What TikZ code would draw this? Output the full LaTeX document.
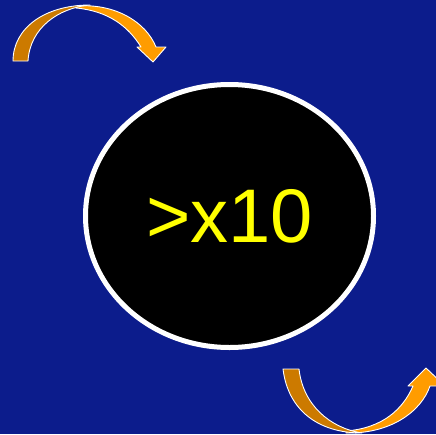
\documentclass[tikz,border=0pt]{standalone}
\usepackage{fontspec}
\setmainfont{Liberation Sans}
\usetikzlibrary{shapes.geometric}
\definecolor{bgblue}{HTML}{0C1C8C}
\definecolor{darkorange}{HTML}{CC7A00}
\definecolor{lightorange}{HTML}{FF9C00}
\definecolor{txtyellow}{HTML}{FFFF00}
\tikzset{
  band/.style={draw=white,line width=0.9pt,line join=round},
  bigcircle/.style={ellipse,draw=white,fill=black,line width=5pt,minimum width=288pt,minimum height=263pt,inner sep=0pt,text=txtyellow,font=\fontsize{76}{80}\selectfont}
}
\begin{document}
\begin{tikzpicture}[x=1pt,y=-1pt]
\fill[bgblue] (0,0) rectangle (436,434);
\useasboundingbox (0,0) rectangle (436,434);
\clip (0,0) rectangle (436,434);
% top arrow
\filldraw[band,fill=lightorange] (76,6) .. controls (115,3) and (146,22) .. (156,47) -- (166,47) -- (153,62) -- (137,47) -- (141,47) .. controls (128,26) and (108,11) .. (76,8) -- cycle;
\filldraw[band,fill=darkorange] (13,61) .. controls (13,28) and (45,5) .. (90,5) .. controls (58,8) and (30,28) .. (28,61) -- cycle;
% bottom arrow
\filldraw[band,fill=lightorange] (346,433) .. controls (390,434) and (421,412) .. (430,386) -- (445,386) -- (426,368) -- (408,386) -- (413,386) .. controls (403,409) and (383,428) .. (346,431) -- cycle;
\filldraw[band,fill=darkorange] (283,369) .. controls (288,410) and (318,433) .. (362,433) .. controls (330,428) and (303,405) .. (299,369) -- cycle;
% central node
\node[bigcircle] (c) at (229.5,216) {>x10};
\end{tikzpicture}
\end{document}
